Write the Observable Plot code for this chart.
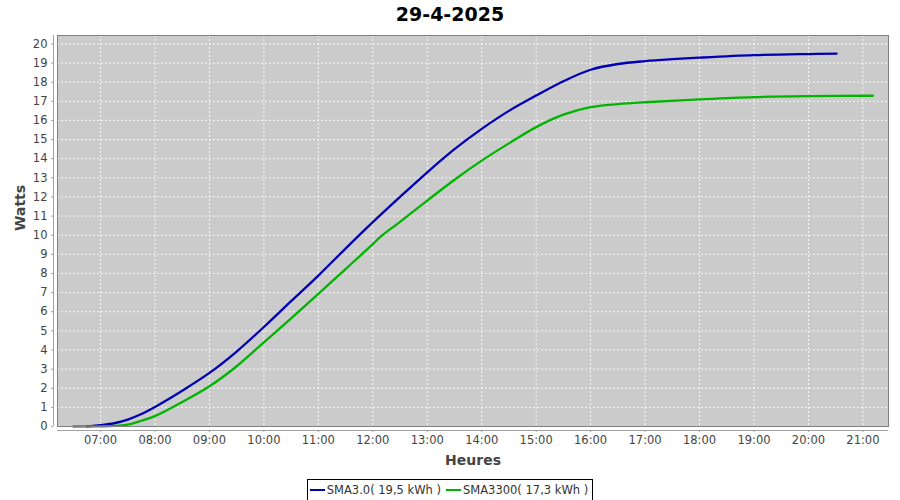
<!DOCTYPE html>
<html><head><meta charset="utf-8">
<script src="https://cdn.jsdelivr.net/npm/d3@7"></script>
<script src="https://cdn.jsdelivr.net/npm/@observablehq/plot@0.6"></script>
<style>
body{margin:0;background:#fff;font-family:"DejaVu Sans",sans-serif;width:900px;height:500px;overflow:hidden}
#title{height:29px;line-height:29px;text-align:center;font-weight:bold;font-size:19px;color:#000}
#chart{height:445px;margin-top:1px}
#legendwrap{text-align:center;height:25px;padding-top:1px;box-sizing:border-box}
#legend{display:inline-flex;align-items:center;border:1px solid #000;height:20px;padding:0 4px 0 2px;font-size:11.5px;color:#333;gap:5px}
.item{display:inline-flex;align-items:center;gap:2px}
.sw{display:inline-block;width:15px;height:2px}
</style></head><body>
<div id="title"></div>
<div id="chart"></div>
<div id="legendwrap"><div id="legend"></div></div>
<script>
const titleText = "29-4-2025";
const xLabel = "Heures";
const yLabel = "Watts";
const seriesNames = ["SMA3.0", "SMA3300"];
const seriesTotals = ["19,5", "17,3"];
const seriesColors = ["#0000b4", "#00b400"];

const blueTimes = ["06:45","07:00","07:15","07:30","07:45","08:00","08:30","09:00","09:30","10:00","10:30","11:00","11:30","12:00","12:30","13:00","13:30","14:00","14:30","15:00","15:30","16:00","16:30","17:00","17:30","18:00","19:00","20:00","20:31"];
const blueValues = [0,0.07,0.17,0.36,0.65,1.02,1.87,2.8,3.92,5.2,6.55,7.89,9.3,10.68,12.0,13.29,14.5,15.56,16.5,17.3,18.05,18.65,18.95,19.1,19.2,19.28,19.41,19.47,19.49];

const greenTimes = ["06:30","07:00","07:15","07:30","07:45","08:00","08:30","09:00","09:30","10:00","10:30","11:00","11:30","12:00","12:08","12:30","13:00","13:30","14:00","14:30","15:00","15:30","16:00","16:30","17:00","18:00","19:00","20:00","21:11"];
const greenValues = [0,0.01,0.03,0.1,0.3,0.54,1.28,2.1,3.15,4.4,5.65,6.93,8.23,9.53,9.9,10.7,11.81,12.9,13.9,14.8,15.65,16.3,16.69,16.85,16.95,17.1,17.22,17.27,17.29];

const xTicks = ["07:00","08:00","09:00","10:00","11:00","12:00","13:00","14:00","15:00","16:00","17:00","18:00","19:00","20:00","21:00"];
const yTicks = [0,1,2,3,4,5,6,7,8,9,10,11,12,13,14,15,16,17,18,19,20];

const toH = s => { const [h, m] = s.split(":").map(Number); return h + m / 60; };
const fmt = h => { const hh = Math.floor(h + 1e-9), mm = Math.round((h - hh) * 60); return String(hh).padStart(2, "0") + ":" + String(mm).padStart(2, "0"); };

const data = [
  ...blueTimes.map((t, i) => ({x: toH(t), y: blueValues[i], s: seriesNames[0]})),
  ...greenTimes.map((t, i) => ({x: toH(t), y: greenValues[i], s: seriesNames[1]}))
];
const xTickVals = xTicks.map(toH);
const xMin = 6.21, xMax = 21.47;

document.getElementById("title").textContent = titleText;

const chart = Plot.plot({
  width: 900, height: 445,
  marginTop: 5, marginBottom: 49, marginLeft: 57, marginRight: 12,
  style: {fontFamily: "DejaVu Sans, sans-serif", fontSize: "11.5px", color: "#444", background: "transparent", overflow: "visible"},
  x: {domain: [xMin, xMax]},
  y: {domain: [0, 20.44]},
  color: {domain: seriesNames, range: seriesColors},
  marks: [
    Plot.frame({fill: "#cbcbcb"}),
    Plot.gridX(xTickVals, {stroke: "#ffffff", strokeOpacity: 0.85, strokeDasharray: "2,2"}),
    Plot.gridY(yTicks, {stroke: "#ffffff", strokeOpacity: 0.85, strokeDasharray: "2,2"}),
    Plot.line(data, {x: "x", y: "y", z: "s", stroke: "s", strokeWidth: 2.3, curve: "catmull-rom"}),
    Plot.frame({stroke: "#808080", strokeWidth: 1}),
    Plot.ruleY([0], {dy: 4, stroke: "#a0a0a0"}),
    Plot.ruleX([xMin], {dx: -4, stroke: "#a0a0a0"}),
    Plot.axisX(xTickVals, {tickFormat: fmt, tickSize: 2, tickPadding: 3, dy: 4, label: null, stroke: "#a0a0a0", fill: "#444"}),
    Plot.axisY(yTicks, {tickSize: 2, tickPadding: 4, dx: -4, label: null, stroke: "#a0a0a0", fill: "#444"}),
    Plot.text([xLabel], {frameAnchor: "bottom", dy: 34, lineAnchor: "middle", fontWeight: "bold", fontSize: 14, fill: "#444"}),
    Plot.text([yLabel], {frameAnchor: "left", dx: -37, rotate: -90, lineAnchor: "middle", fontWeight: "bold", fontSize: 14, fill: "#444"})
  ]
});
document.getElementById("chart").appendChild(chart);

const legend = document.getElementById("legend");
seriesNames.forEach((n, i) => {
  const it = document.createElement("span");
  it.className = "item";
  const sw = document.createElement("span");
  sw.className = "sw";
  sw.style.background = seriesColors[i];
  const tx = document.createElement("span");
  tx.textContent = n + "( " + seriesTotals[i] + " kWh )";
  it.appendChild(sw); it.appendChild(tx);
  legend.appendChild(it);
});
</script>
</body></html>
